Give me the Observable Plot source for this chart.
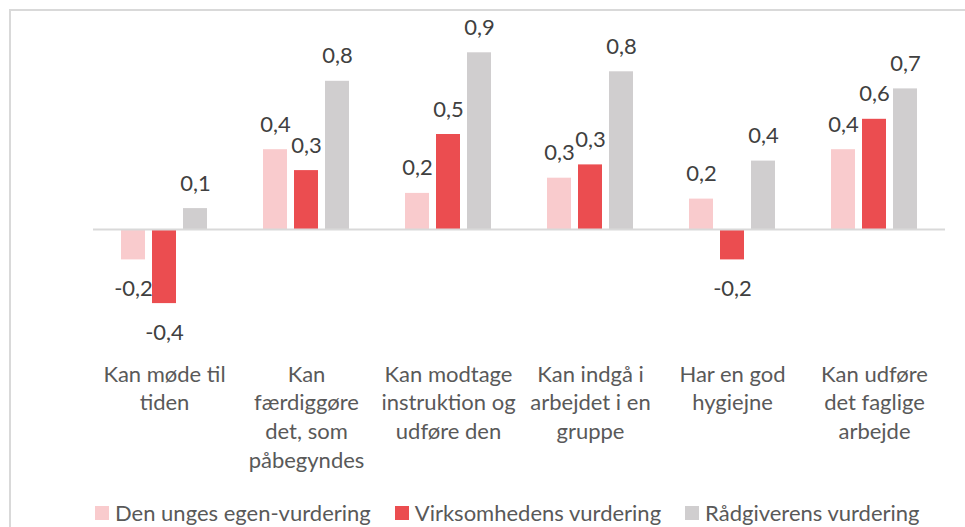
<!DOCTYPE html>
<html>
<head>
<meta charset="utf-8">
<script src="https://cdn.jsdelivr.net/npm/d3@7"></script>
<script src="https://cdn.jsdelivr.net/npm/@observablehq/plot@0.6"></script>
<style>
  body { margin: 0; background: #fff; font-family: Lato, "Open Sans", sans-serif; }
  #wrap { position: relative; width: 965px; height: 527px; overflow: hidden; background: #fff; }
  #frame { position: absolute; left: 9px; top: 9px; width: 1000px; height: 600px;
           border-left: 2px solid #d9d9d9; border-top: 2px solid #d9d9d9; pointer-events: none; }
  #chart { position: absolute; left: 0; top: 0; }
  #legend { position: absolute; left: 95px; top: 499px; display: flex; align-items: center;
            font-size: 22px; color: #595959; white-space: nowrap; }
  .item { display: flex; align-items: center; margin-right: 24px; }
  .sw { width: 14px; height: 14px; margin-right: 6px; display: inline-block; }
</style>
</head>
<body>
<div id="wrap">
  <div id="frame"></div>
  <div id="chart"></div>
  <div id="legend"></div>
</div>
<script>
// ---- data ----
const categories = ["Kan møde til tiden", "Kan færdiggøre det, som påbegyndes", "Kan modtage instruktion og udføre den", "Kan indgå i arbejdet i en gruppe", "Har en god hygiejne", "Kan udføre det faglige arbejde"];
const tickLabels = ["Kan møde til\ntiden", "Kan\nfærdiggøre\ndet, som\npåbegyndes", "Kan modtage\ninstruktion og\nudføre den", "Kan indgå i\narbejdet i en\ngruppe", "Har en god\nhygiejne", "Kan udføre\ndet faglige\narbejde"];
const series = ["Den unges egen-vurdering", "Virksomhedens vurdering", "Rådgiverens vurdering"];
const egen = [-0.16, 0.42, 0.19, 0.27, 0.16, 0.42];
const virk = [-0.39, 0.31, 0.50, 0.34, -0.16, 0.58];
const raad = [0.11, 0.78, 0.93, 0.83, 0.36, 0.74];
const colors = ["#F9CBCD", "#EB4D50", "#D0CECF"];

const values = [egen, virk, raad];
const data = [];
categories.forEach((c, i) => {
  series.forEach((s, j) => data.push({category: c, series: s, value: values[j][i]}));
});
const fmt = v => v.toFixed(1).replace(".", ",");
const tickMap = new Map(categories.map((c, i) => [c, tickLabels[i]]));

const plot = Plot.plot({
  width: 965,
  height: 495,
  marginLeft: 90,
  marginRight: 18,
  marginTop: 39,
  marginBottom: 171,
  style: {fontFamily: "Lato, 'Open Sans', sans-serif", background: "transparent"},
  fx: {domain: categories, padding: 0, label: null},
  x: {domain: series, axis: null, paddingInner: 0.22, paddingOuter: 0.84},
  y: {domain: [-0.5, 1.0], axis: null},
  color: {domain: series, range: colors},
  marks: [
    Plot.barY(data, {fx: "category", x: "series", y: "value", fill: "series"}),
    Plot.ruleY([0], {stroke: "#d9d9d9", strokeWidth: 2}),
    Plot.text(data.filter(d => d.value >= 0), {fx: "category", x: "series", y: "value", text: d => fmt(d.value), dy: -25, fontSize: 22, fill: "#404040"}),
    Plot.text(data.filter(d => d.value < 0), {fx: "category", x: "series", y: "value", text: d => fmt(d.value), dy: 29, fontSize: 22, fill: "#404040"}),
    Plot.axisFx({anchor: "bottom", tickSize: 0, tickPadding: 37, label: null, fontSize: 22, lineHeight: 1.3, fill: "#595959", tickFormat: c => tickMap.get(c), lineAnchor: "top"})
  ]
});
document.getElementById("chart").appendChild(plot);

const legend = document.getElementById("legend");
series.forEach((s, j) => {
  const it = document.createElement("div");
  it.className = "item";
  const sw = document.createElement("span");
  sw.className = "sw";
  sw.style.background = colors[j];
  const t = document.createElement("span");
  t.textContent = s;
  it.appendChild(sw); it.appendChild(t);
  legend.appendChild(it);
});
</script>
</body>
</html>
